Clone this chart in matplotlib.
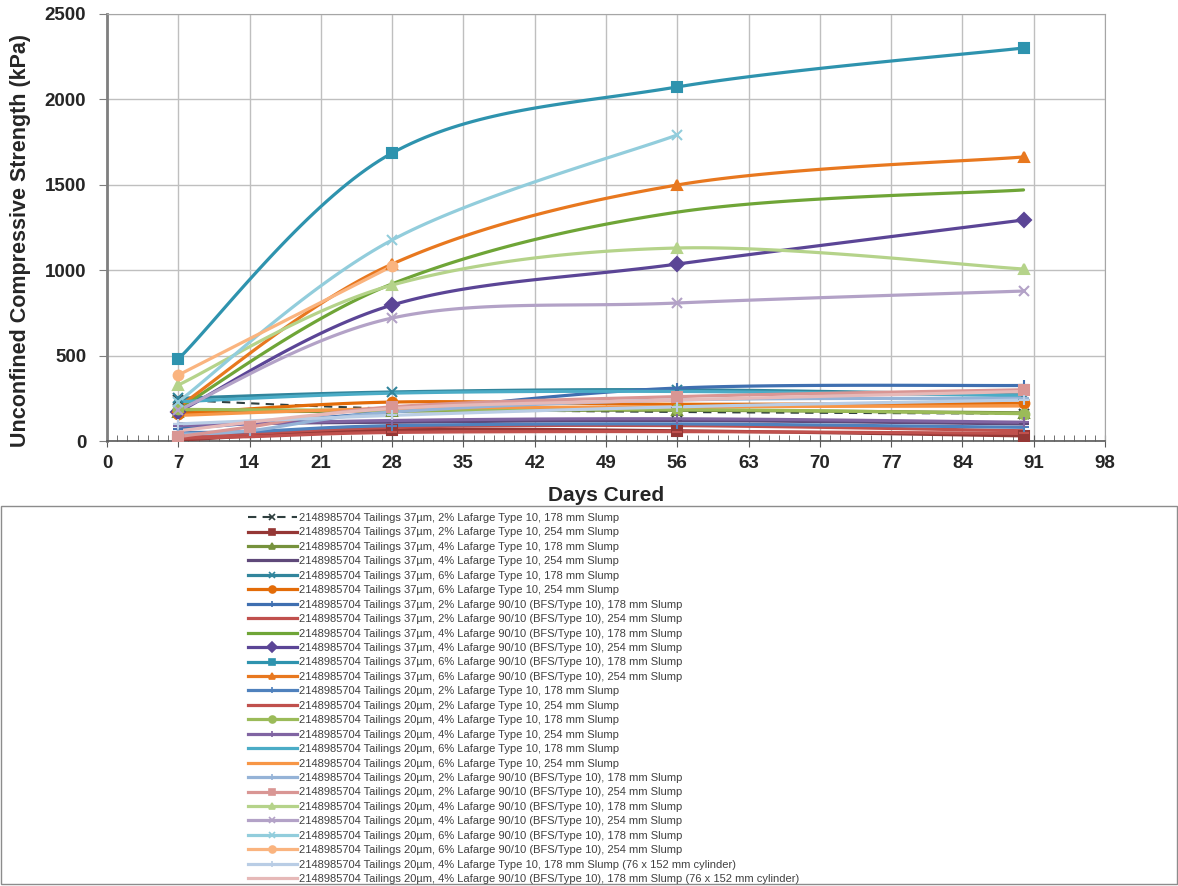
"""Unconfined compressive strength vs days cured (37um / 20um tailings)"""

import matplotlib.pyplot as plt
import numpy as np
from matplotlib import patches
from matplotlib.lines import Line2D

plt.rcParams["font.family"] = ["Liberation Sans", "DejaVu Sans"]

# 养护天数
DAYS = [7, 28, 56, 90]
DAYS_14 = [7, 14, 28, 56, 90]
DAYS_TO_56 = [7, 28, 56]
DAYS_TO_28 = [7, 28]

PREFIX = "2148985704 Tailings "
LABELS = [
    "37µm, 2% Lafarge Type 10, 178 mm Slump",
    "37µm, 2% Lafarge Type 10, 254 mm Slump",
    "37µm, 4% Lafarge Type 10, 178 mm Slump",
    "37µm, 4% Lafarge Type 10, 254 mm Slump",
    "37µm, 6% Lafarge Type 10, 178 mm Slump",
    "37µm, 6% Lafarge Type 10, 254 mm Slump",
    "37µm, 2% Lafarge 90/10 (BFS/Type 10), 178 mm Slump",
    "37µm, 2% Lafarge 90/10 (BFS/Type 10), 254 mm Slump",
    "37µm, 4% Lafarge 90/10 (BFS/Type 10), 178 mm Slump",
    "37µm, 4% Lafarge 90/10 (BFS/Type 10), 254 mm Slump",
    "37µm, 6% Lafarge 90/10 (BFS/Type 10), 178 mm Slump",
    "37µm, 6% Lafarge 90/10 (BFS/Type 10), 254 mm Slump",
    "20µm, 2% Lafarge Type 10, 178 mm Slump",
    "20µm, 2% Lafarge Type 10, 254 mm Slump",
    "20µm, 4% Lafarge Type 10, 178 mm Slump",
    "20µm, 4% Lafarge Type 10, 254 mm Slump",
    "20µm, 6% Lafarge Type 10, 178 mm Slump",
    "20µm, 6% Lafarge Type 10, 254 mm Slump",
    "20µm, 2% Lafarge 90/10 (BFS/Type 10), 178 mm Slump",
    "20µm, 2% Lafarge 90/10 (BFS/Type 10), 254 mm Slump",
    "20µm, 4% Lafarge 90/10 (BFS/Type 10), 178 mm Slump",
    "20µm, 4% Lafarge 90/10 (BFS/Type 10), 254 mm Slump",
    "20µm, 6% Lafarge 90/10 (BFS/Type 10), 178 mm Slump",
    "20µm, 6% Lafarge 90/10 (BFS/Type 10), 254 mm Slump",
    "20µm, 4% Lafarge Type 10, 178 mm Slump (76 x 152 mm cylinder)",
    "20µm, 4% Lafarge 90/10 (BFS/Type 10), 178 mm Slump (76 x 152 mm cylinder)",
]

# 每条曲线的天数和强度(kPa)
SERIES_DAYS = [
    DAYS, DAYS, DAYS, DAYS, DAYS, DAYS,
    DAYS, DAYS, DAYS, DAYS, DAYS, DAYS,
    DAYS_14, DAYS_14, DAYS, DAYS, DAYS, DAYS,
    DAYS_14, DAYS_14, DAYS, DAYS, DAYS_TO_56, DAYS_TO_28,
    DAYS, DAYS,
]
SERIES_VALUES = [
    [240, 190, 170, 160],
    [5, 65, 60, 30],
    [170, 175, 180, 165],
    [100, 110, 120, 100],
    [250, 287, 300, 270],
    [160, 228, 215, 222],
    [70, 170, 310, 325],
    [20, 80, 90, 60],
    [190, 920, 1340, 1470],
    [170, 796, 1036, 1294],
    [480, 1686, 2073, 2301],
    [200, 1036, 1499, 1663],
    [50, 55, 90, 100, 80],
    [15, 25, 50, 55, 45],
    [185, 180, 185, 160],
    [90, 120, 130, 110],
    [230, 280, 290, 265],
    [150, 190, 200, 205],
    [40, 60, 170, 240, 250],
    [25, 82, 200, 260, 300],
    [328, 913, 1130, 1007],
    [180, 720, 808, 878],
    [230, 1177, 1792],
    [386, 1024],
    [100, 150, 200, 240],
    [60, 190, 240, 290],
]

COLORS = [
    "#2F3F3F", "#953735", "#76923C", "#5F497A", "#31859C", "#E36C09",
    "#3F6FB0", "#C0504D", "#6FA537", "#5B4596", "#2E93AE", "#E8781F",
    "#4F81BD", "#C0504D", "#9BBB59", "#8064A2", "#4BACC6", "#F79646",
    "#95B3D7", "#D99694", "#B5D38A", "#B3A2C7", "#92CDDC", "#FAB47F",
    "#B9CDE5", "#E6B9B8",
]
MARKERS = [
    "x", "s", "^", "_", "x", "o",
    "+", None, None, "D", "s", "^",
    "+", "_", "o", "+", None, None,
    "+", "s", "^", "x", "x", "o",
    "+", None,
]


def smooth_curve(x, y, n=40):
    """Excel风格的平滑曲线(三次贝塞尔)"""
    pts = np.column_stack([x, y]).astype(float)
    if len(pts) < 3:
        return pts[:, 0], pts[:, 1]
    padded = np.vstack([pts[0], pts, pts[-1]])
    t = np.linspace(0, 1, n)[:, None]
    out = []
    for i in range(len(pts) - 1):
        p0, p1, p2, p3 = padded[i], padded[i + 1], padded[i + 2], padded[i + 3]
        c1 = p1 + (p2 - p0) / 6
        c2 = p2 - (p3 - p1) / 6
        seg = (1 - t) ** 3 * p1 + 3 * (1 - t) ** 2 * t * c1 + 3 * (1 - t) * t ** 2 * c2 + t ** 3 * p2
        out.append(seg if i == 0 else seg[1:])
    out = np.vstack(out)
    return out[:, 0], out[:, 1]


fig = plt.figure(figsize=(11.78, 8.86), dpi=100)
ax = fig.add_axes([107 / 1178, 1 - 441 / 886, 998 / 1178, 427 / 886])

handles = []
for days, vals, color, marker in zip(SERIES_DAYS, SERIES_VALUES, COLORS, MARKERS):
    dashed = color == "#2F3F3F"
    ls = (0, (4, 3)) if dashed else "-"
    lw = 1.5 if dashed else 2.3
    xs, ys = smooth_curve(days, vals)
    ax.plot(xs, ys, color=color, lw=lw, ls=ls, zorder=3, solid_capstyle="round")
    if marker is not None:
        ax.plot(days, vals, ls="none", marker=marker, color=color, markersize=7,
                markeredgewidth=1.5, zorder=4)
    handles.append(Line2D([], [], color=color, lw=lw, ls=ls, marker=marker,
                          markersize=5, markeredgewidth=1.2))

ax.set_xlim(0, 98)
ax.set_ylim(0, 2500)
ax.set_xticks(np.arange(0, 99, 7))
ax.set_xticks(np.arange(0, 99, 1), minor=True)
ax.set_yticks(np.arange(0, 2501, 500))
ax.grid(True, which="major", color="#BFBFBF", lw=1)
ax.set_axisbelow(True)

for side in ["top", "right"]:
    ax.spines[side].set_color("#A6A6A6")
ax.spines["left"].set_color("#7F7F7F")
ax.spines["left"].set_linewidth(2)
ax.spines["bottom"].set_color("#595959")
ax.spines["bottom"].set_linewidth(1.2)

ax.tick_params(axis="x", which="major", direction="inout", length=8, color="#595959",
               labelsize=13.5, pad=6)
ax.tick_params(axis="x", which="minor", direction="in", length=4, color="#595959")
ax.tick_params(axis="y", which="major", direction="out", length=6, color="#7F7F7F",
               labelsize=13.5, pad=9)
for lab in ax.get_xticklabels() + ax.get_yticklabels():
    lab.set_fontweight("bold")
    lab.set_color("#262626")

ax.set_xlabel("Days Cured", fontsize=15, fontweight="bold", color="#262626")
ax.xaxis.set_label_coords(0.5, -0.105)
ax.set_ylabel("Unconfined Compressive Strength (kPa)", fontsize=15.5, fontweight="bold",
              color="#262626")
ax.yaxis.set_label_coords(-0.076, 0.47)

leg = fig.legend(handles, [PREFIX + s for s in LABELS], loc="upper left",
                 bbox_to_anchor=(248 / 1178, 1 - 513 / 886), frameon=False, fontsize=8,
                 handlelength=4.4, handletextpad=0.15, labelspacing=0.4,
                 borderpad=0, borderaxespad=0)
for txt in leg.get_texts():
    txt.set_color("#404040")

fig.add_artist(patches.Rectangle((0.001, 0.002), 0.998, (886 - 508) / 886,
                                 transform=fig.transFigure, fill=False,
                                 edgecolor="#8C8C8C", lw=1))

fig.savefig("out.png", dpi=100)
plt.close(fig)
